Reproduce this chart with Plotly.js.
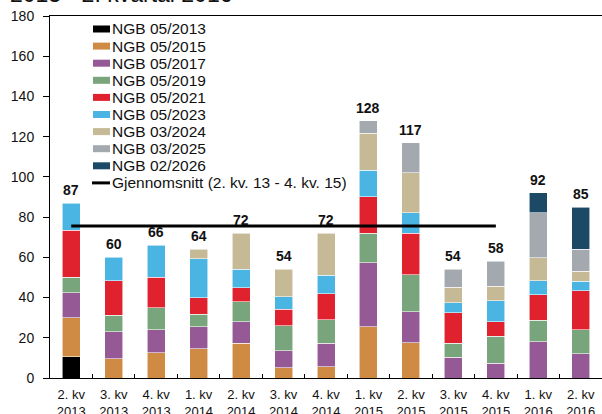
<!DOCTYPE html>
<html>
<head>
<meta charset="utf-8">
<script src="https://cdn.plot.ly/plotly-3.0.1.min.js"></script>
<style>
  html, body { margin: 0; padding: 0; background: #ffffff; }
  #chart { width: 602px; height: 414px; }
</style>
</head>
<body>
<div id="chart"></div>
<script>
// ---- Data ----
const categories = ["2. kv<br>2013", "3. kv<br>2013", "4. kv<br>2013", "1. kv<br>2014", "2. kv<br>2014",
  "3. kv<br>2014", "4. kv<br>2014", "1. kv<br>2015", "2. kv<br>2015", "3. kv<br>2015",
  "4. kv<br>2015", "1. kv<br>2016", "2. kv<br>2016"];

const seriesNames = ["NGB 05/2013", "NGB 05/2015", "NGB 05/2017", "NGB 05/2019", "NGB 05/2021",
  "NGB 05/2023", "NGB 03/2024", "NGB 03/2025", "NGB 02/2026"];
const seriesColors = ["#000000", "#CF8B43", "#955A96", "#79A57C", "#E0222E",
  "#4AB4E3", "#C5B996", "#A3A9AE", "#1C4966"];

const ngb0513 = [10.5, null, null, null, null, null, null, null, null, null, null, null, null];
const ngb0515 = [19.5, 9.6, 12.6, 14.6, 17.3, 5.0, 5.5, 25.4, 17.6, null, null, null, null];
const ngb0517 = [12.5, 13.4, 11.3, 10.8, 10.6, 8.5, 11.9, 31.9, 15.3, 10.3, 7.3, 18.1, 12.1];
const ngb0519 = [7.5, 8.3, 11.0, 6.2, 10.1, 12.6, 11.6, 14.6, 18.4, 7.1, 13.5, 10.6, 12.0];
const ngb0521 = [23.5, 17.1, 15.1, 8.3, 7.0, 8.0, 13.0, 18.3, 20.6, 15.0, 7.1, 12.8, 19.3];
const ngb0523 = [13.5, 11.6, 16.0, 19.4, 9.0, 6.3, 9.2, 13.0, 10.3, 5.0, 10.6, 6.8, 4.8];
const ngb0324 = [null, null, null, 4.7, 18.0, 13.6, 20.8, 18.6, 19.8, 7.8, 7.2, 11.5, 4.8];
const ngb0325 = [null, null, null, null, null, null, null, 6.2, 15.0, 8.8, 12.3, 22.3, 11.1];
const ngb0226 = [null, null, null, null, null, null, null, null, null, null, null, 9.9, 20.9];

const totals = [87, 60, 66, 64, 72, 54, 72, 128, 117, 54, 58, 92, 85];

const avgName = "Gjennomsnitt (2. kv. 13 - 4. kv. 15)";
const avgX = ["2. kv<br>2013", "4. kv<br>2015"];
const avgY = [75.6, 75.6];

const yTicks = [0, 20, 40, 60, 80, 100, 120, 140, 160, 180];
const titleText = "2013 - 2. kvartal 2016";

// ---- Build ----
const seriesValues = [ngb0513, ngb0515, ngb0517, ngb0519, ngb0521, ngb0523, ngb0324, ngb0325, ngb0226];
const FONT = "Arial, 'Liberation Sans', sans-serif";

const traces = seriesValues.map((vals, i) => ({
  type: "bar",
  name: seriesNames[i],
  x: categories,
  y: vals,
  marker: { color: seriesColors[i], line: { color: "rgba(255,255,255,0.7)", width: 0.8 } },
  showlegend: false,
  hoverinfo: "skip"
}));

traces.push({
  type: "scatter",
  mode: "lines",
  name: avgName,
  x: avgX,
  y: avgY,
  line: { color: "#000000", width: 3 },
  showlegend: false,
  hoverinfo: "skip"
});

// pixel helpers for legend placement (plot area: x 50..602, y 16..378)
const L = 50, R = 602, T = 16, B = 378;
const px = p => (p - L) / (R - L);
const py = p => (B - p) / (B - T);

const shapes = [];
const annotations = [];

// total labels
categories.forEach((c, i) => {
  annotations.push({
    x: c, y: totals[i], xref: "x", yref: "y",
    text: "<b>" + totals[i] + "</b>",
    showarrow: false, yanchor: "bottom", yshift: 3,
    font: { family: FONT, size: 14, color: "#111111" }
  });
});

// custom legend
const legendTop = 29, legendStep = 17.1;
seriesNames.forEach((n, i) => {
  const yc = legendTop + i * legendStep;
  shapes.push({
    type: "rect", xref: "paper", yref: "paper",
    x0: px(93), x1: px(110), y0: py(yc + 3.5), y1: py(yc - 3.5),
    fillcolor: seriesColors[i], line: { width: 0 }
  });
  annotations.push({
    xref: "paper", yref: "paper", x: px(110), y: py(yc),
    xanchor: "left", yanchor: "middle", showarrow: false, text: n,
    font: { family: FONT, size: 15.5, color: "#111111" }
  });
});
{
  const yc = legendTop + seriesNames.length * legendStep;
  shapes.push({
    type: "line", xref: "paper", yref: "paper",
    x0: px(92), x1: px(110), y0: py(yc), y1: py(yc),
    line: { color: "#000000", width: 3 }
  });
  annotations.push({
    xref: "paper", yref: "paper", x: px(110), y: py(yc),
    xanchor: "left", yanchor: "middle", showarrow: false, text: avgName,
    font: { family: FONT, size: 15.5, color: "#111111" }
  });
}

// partially visible title at the very top
annotations.push({
  xref: "paper", yref: "paper", x: px(8), y: py(9),
  xanchor: "left", yanchor: "bottom", showarrow: false, text: titleText,
  font: { family: FONT, size: 23, color: "#111111" }
});

const layout = {
  width: 602, height: 414,
  margin: { l: L, r: 602 - R, t: T, b: 414 - B, pad: 0 },
  paper_bgcolor: "#ffffff", plot_bgcolor: "#ffffff",
  barmode: "stack", bargap: 0.576,
  showlegend: false,
  font: { family: FONT, size: 14, color: "#111111" },
  xaxis: {
    type: "category",
    showline: true, linecolor: "#000000", linewidth: 1, mirror: true,
    ticks: "inside", tickson: "boundaries", ticklen: 4, tickcolor: "#000000",
    showgrid: false, zeroline: false,
    tickfont: { family: FONT, size: 13, color: "#111111" },
    ticklabelstandoff: 4,
    fixedrange: true
  },
  yaxis: {
    range: [0, 180], tickvals: yTicks,
    showline: true, linecolor: "#000000", linewidth: 1,
    ticks: "outside", ticklen: 6, tickcolor: "#000000",
    showgrid: false, zeroline: false,
    tickfont: { family: FONT, size: 14, color: "#111111" },
    ticklabelstandoff: 6,
    fixedrange: true
  },
  yaxis2: {
    overlaying: "y", side: "right", range: [0, 180], tickvals: yTicks,
    showline: false, ticks: "inside", ticklen: 5, tickcolor: "#000000",
    showticklabels: false, showgrid: false, zeroline: false, fixedrange: true
  },
  shapes: shapes,
  annotations: annotations
};

Plotly.newPlot("chart", traces, layout, { displayModeBar: false, staticPlot: true });
</script>
</body>
</html>
